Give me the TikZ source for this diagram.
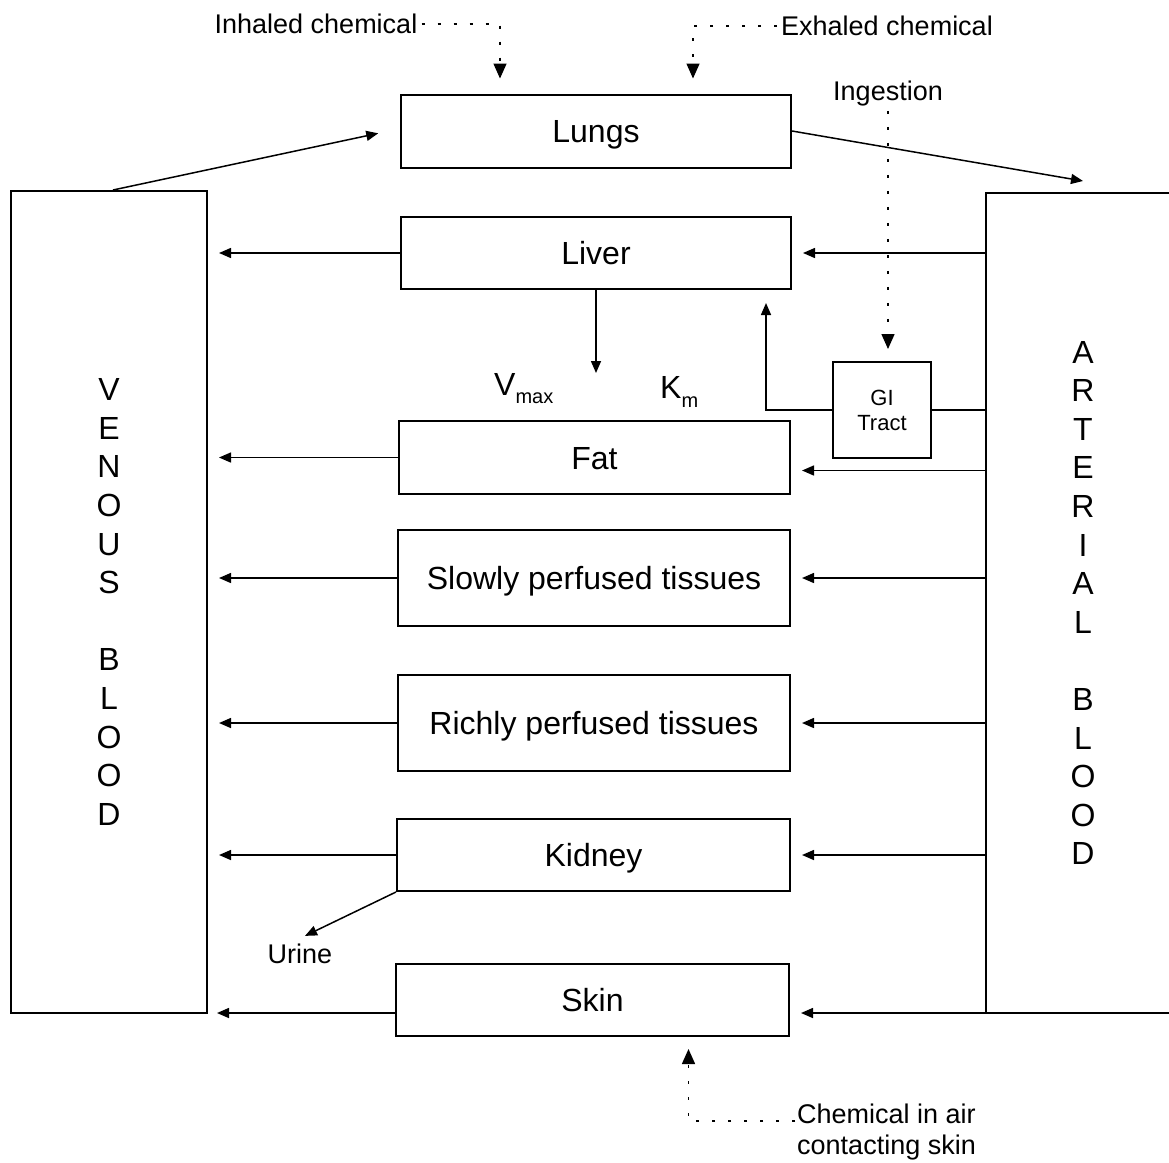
\documentclass[tikz,border=0pt]{standalone}
\usepackage{fontspec}
\setmainfont{Liberation Sans}
\usetikzlibrary{arrows.meta}
\tikzset{
	organ/.style={draw, line width=2pt, inner sep=0pt, font=\fontsize{32}{38.6}\selectfont},
	cell/.style={organ, text height=23pt, text depth=0pt},
	tag/.style={inner sep=4pt, font=\fontsize{27}{32}\selectfont},
	flow/.style={line width=1.5pt, -{Triangle[length=12pt,width=10pt]}, shorten >=11pt},
	feed/.style={line width=1.5pt, dash pattern=on 3pt off 13pt, -{Triangle[length=15pt,width=13pt]}},
}
\begin{document}
\begin{tikzpicture}[x=1pt,y=-1pt]
		\useasboundingbox (0,0) rectangle (1169,1162);
		\node[organ, minimum width=196pt, minimum height=822pt, align=center] (venous) at (109,602) {V\\E\\N\\O\\U\\S\\[38.6pt]B\\L\\O\\O\\D};
		\node[organ, minimum width=194pt, minimum height=820pt, align=center] (arterial) at (1083,603) {A\\R\\T\\E\\R\\I\\A\\L\\[38.6pt]B\\L\\O\\O\\D};
		\node[cell, minimum width=390pt, minimum height=73pt] (lungs) at (596,131) {Lungs};
		\node[cell, minimum width=390pt, minimum height=72pt] (liver) at (596,253) {Liver};
		\node[cell, minimum width=391pt, minimum height=73pt] (fat) at (594.5,457.5) {Fat};
		\node[cell, minimum width=392pt, minimum height=96pt] (slow) at (594,578) {Slowly perfused tissues};
		\node[cell, minimum width=392pt, minimum height=96pt] (rich) at (594,723) {Richly perfused tissues};
		\node[cell, minimum width=393pt, minimum height=72pt] (kidney) at (593.5,855) {Kidney};
		\node[cell, minimum width=393pt, minimum height=72pt] (skin) at (592.5,1000) {Skin};
		\node[organ, minimum width=98pt, minimum height=96pt, align=center, font=\fontsize{22}{25}\selectfont] (gi) at (882,410) {GI\\Tract};
		\node[tag] (inhaled) at (316,24) {Inhaled chemical};
		\node[tag] (exhaled) at (887,26) {Exhaled chemical};
		\node[tag] (ingestion) at (888,94) {Ingestion};
		\node[tag] (urine) at (300,954) {Urine};
		\node[tag, anchor=west, align=left, inner sep=2pt] (chem) at (795,1132) {Chemical in air\\contacting skin};
		\node[anchor=base west, inner sep=0pt, font=\fontsize{32}{38.6}\selectfont] (vmax) at (494,395) {V\raisebox{-8pt}{\fontsize{20}{20}\selectfont max}};
		\node[anchor=base west, inner sep=0pt, font=\fontsize{32}{38.6}\selectfont] (km) at (660,398) {K\raisebox{-9pt}{\fontsize{20}{20}\selectfont m}};
		\coordinate (metab) at (596,373);
		\coordinate (fatin) at ([yshift=-13pt]fat.east);
		\coordinate (skinin) at ([yshift=-13pt]skin.east);
		\coordinate (skinout) at ([yshift=-13pt]skin.west);
		\coordinate (gitop) at ([yshift=12pt]gi.north);
		\draw[flow] ([xshift=4pt]venous.north) -- ([xshift=-11pt]lungs.west);
		\draw[flow, shorten >=0pt] (lungs.east) -- ([yshift=11pt]arterial.north);
		\foreach \o in {liver,fat,slow,rich,kidney}
			\draw[flow] (\o.west) -- (\o.west -| venous.east);
		\draw[flow, shorten >=9pt] (skinout) -- (skinout -| venous.east);
		\foreach \o in {liver,slow,rich,kidney}
			\draw[flow] (arterial.west |- \o.east) -- (\o.east);
		\draw[flow] (fatin -| arterial.west) -- (fatin);
		\draw[flow] (skinin -| arterial.west) -- (skinin);
		\draw[flow, shorten >=0pt] (liver.south) -- (metab);
		\draw[flow, shorten >=13pt] (gi.west) -| ([xshift=170pt]liver.south);
		\draw[line width=1.5pt] (gi.east) -- (gi.east -| arterial.west);
		\draw[flow, shorten >=0pt] (kidney.south west) -- ([xshift=5pt,yshift=4pt]urine.north);
		\draw[feed] (inhaled.east) -| ([xshift=-96pt,yshift=15pt]lungs.north);
		\draw[feed] (exhaled.west) -| ([xshift=97pt,yshift=15pt]lungs.north);
		\draw[feed] (ingestion.south) -- (ingestion.south |- gitop);
		\draw[feed] ([yshift=11pt]chem.west) -| ([xshift=96pt,yshift=-12pt]skin.south);
	\end{tikzpicture}
\end{document}
